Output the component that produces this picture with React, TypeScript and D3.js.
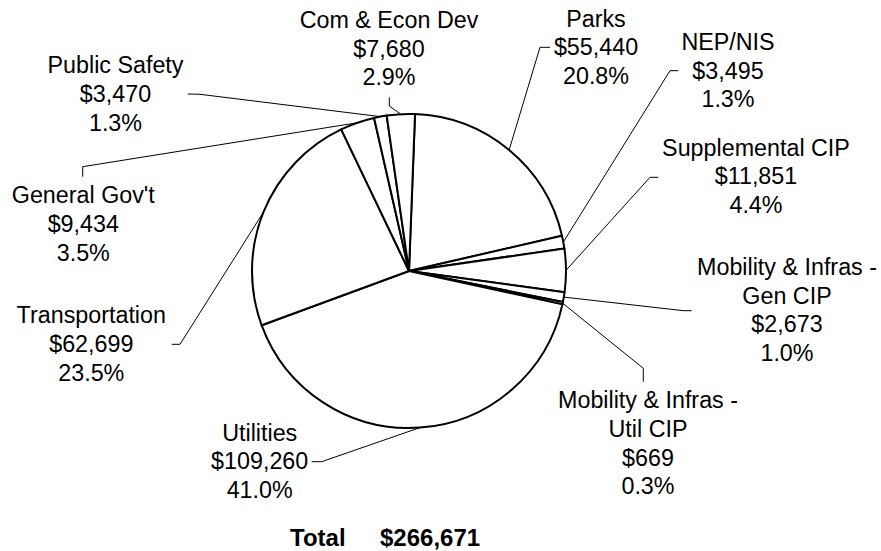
import React, { useEffect } from 'react';
import * as d3 from 'd3';

// data (dollars, in thousands)
const categories = [
  'Parks',
  'NEP/NIS',
  'Supplemental CIP',
  'Mobility & Infras -\nGen CIP',
  'Mobility & Infras -\nUtil CIP',
  'Utilities',
  'Transportation',
  "General Gov't",
  'Public Safety',
  'Com & Econ Dev',
];
const amounts = [55440, 3495, 11851, 2673, 669, 109260, 62699, 9434, 3470, 7680];

// label layout: [center x, first baseline]
const labelPos: [number, number][] = [
  [596, 26.7],
  [728, 50],
  [756, 155.7],
  [787, 275],
  [648, 408.3],
  [259.7, 440.7],
  [91.3, 323.3],
  [83.3, 203.3],
  [115.5, 73.3],
  [389, 28],
];
// leader line points on the label side (end, elbow); the last point is the slice's arc mid
const leaderPts: [number, number][][] = [
  [[550, 47.3], [540, 47.3]],
  [[678.3, 70.7], [670, 70.7]],
  [[658.3, 177.3], [650, 177.3]],
  [[691.7, 310.7], [683.3, 310.7]],
  [[643.3, 381.7], [643.3, 368.3]],
  [[311.7, 461.7], [321.7, 461.7]],
  [[171.7, 344.3], [180, 344.3]],
  [[82.7, 176.7], [82.7, 166.7]],
  [[187.7, 94], [200, 94.3]],
  [[389.3, 97.3], [389.3, 106]],
];

const width = 881;
const height = 551;
const cx = 409;
const cy = 271;
const radius = 157;
const startOffset = (2.2 * Math.PI) / 180;
const lineH = 28.6;
const font = "'Liberation Sans', Arial, sans-serif";

export default function App() {
  useEffect(() => {
    document.body.style.margin = '0';
  }, []);

  const total = d3.sum(amounts);
  const pie = d3
    .pie<number>()
    .sort(null)
    .value((d) => d)
    .startAngle(startOffset)
    .endAngle(startOffset + 2 * Math.PI);
  const arcs = pie(amounts);
  const arc = d3.arc<d3.PieArcDatum<number>>().innerRadius(0).outerRadius(radius);
  const rimArc = d3.arc<d3.PieArcDatum<number>>().innerRadius(radius).outerRadius(radius);

  const money = d3.format('$,');
  const pct = d3.format('.1%');
  const line = d3.line();

  return (
    <svg width={width} height={height} style={{ display: 'block' }}>
      <rect width={width} height={height} fill="#fff" />
      <g transform={`translate(${cx},${cy})`}>
        {arcs.map((a, i) => (
          <path key={i} d={arc(a) || ''} fill="#fff" stroke="#000" strokeWidth={2} strokeLinejoin="round" />
        ))}
      </g>
      {arcs.map((a, i) => {
        const [mx, my] = rimArc.centroid(a);
        const pts: [number, number][] = [...leaderPts[i], [cx + mx, cy + my]];
        return <path key={i} d={line(pts) || ''} fill="none" stroke="#000" strokeWidth={1} />;
      })}
      {arcs.map((a, i) => {
        const lines = [...categories[i].split('\n'), money(amounts[i]), pct(amounts[i] / total)];
        const [x, y] = labelPos[i];
        return (
          <text key={i} fontFamily={font} fontSize={23.3} textAnchor="middle" fill="#000">
            {lines.map((t, j) => (
              <tspan key={j} x={x} y={y + j * lineH}>
                {t}
              </tspan>
            ))}
          </text>
        );
      })}
      <text fontFamily={font} fontSize={24} fontWeight="bold" fill="#000">
        <tspan x={290} y={546}>Total</tspan>
        <tspan x={380} y={546}>{money(total)}</tspan>
      </text>
    </svg>
  );
}
